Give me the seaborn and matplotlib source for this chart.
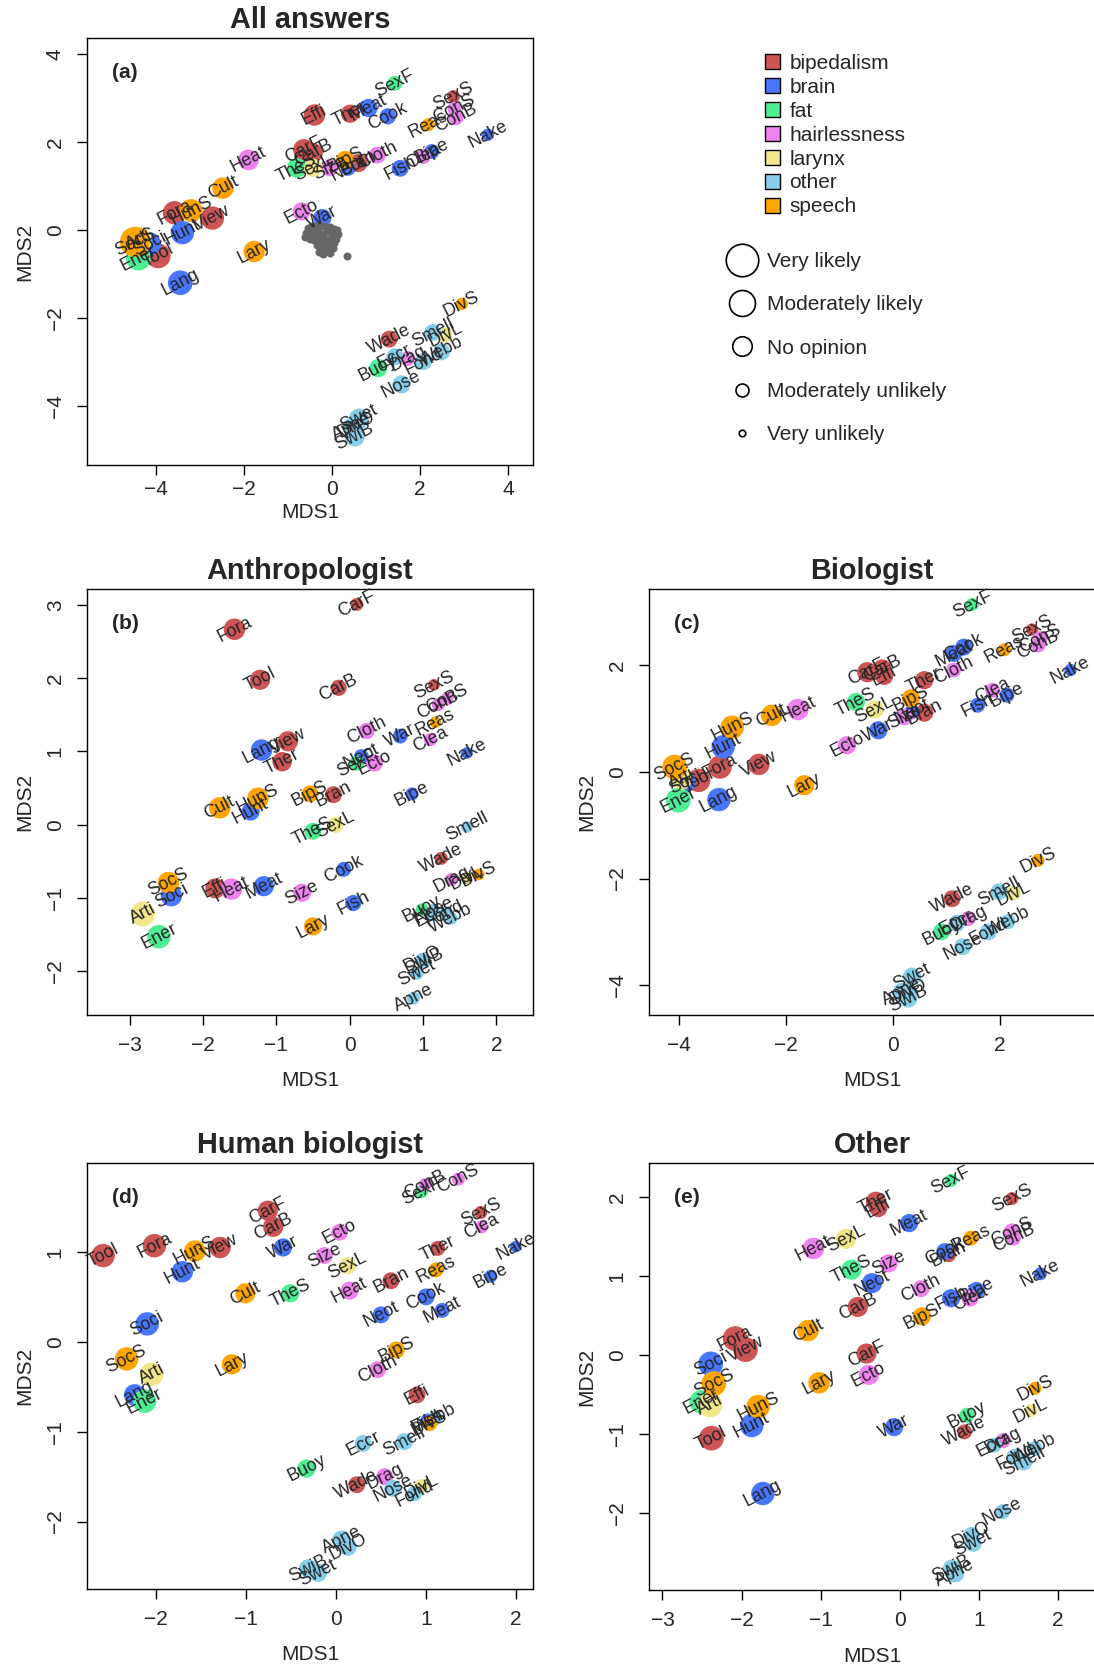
import numpy as np
import pandas as pd
import matplotlib
matplotlib.use("Agg")
import matplotlib.pyplot as plt
from matplotlib.patches import Patch
from matplotlib.lines import Line2D
import seaborn as sns

# hypotheses (short names) and their group
names = ["Effi", "Ther", "SexS", "CarF", "CarB", "Bran", "Fora", "View", "Tool", "Wade",
         "Meat", "Cook", "Nake", "Neot", "Fish", "Bipe", "Hunt", "War", "Soci", "Lang",
         "SexF", "TheS", "Ener", "Buoy",
         "ConS", "ConB", "Heat", "Size", "Cloth", "Clea", "Ecto", "Drag",
         "SexL", "Arti", "DivL",
         "Smell", "Eccr", "Fond", "Webb", "Nose", "Swet", "Apne", "DivO", "SwiB",
         "Reas", "BipS", "Cult", "HunS", "SocS", "Lary", "DivS"]
groups = (["bipedalism"] * 10 + ["brain"] * 10 + ["fat"] * 4 + ["hairlessness"] * 8
          + ["larynx"] * 3 + ["other"] * 9 + ["speech"] * 7)

group_names = ["bipedalism", "brain", "fat", "hairlessness", "larynx", "other", "speech"]
group_colors = ["#CD5555", "#4876FF", "#4EEE94", "#EE82EE", "#F0E68C", "#87CEEB", "#FFA500"]

rating_labels = ["Very likely", "Moderately likely", "No opinion", "Moderately unlikely", "Very unlikely"]
rating_values = [5, 4, 3, 2, 1]

# (a) all answers
a_x = [-0.40, 0.41, 2.76, -0.64, -0.43, 0.60, -3.58, -2.72, -3.95, 1.30,
       0.83, 1.27, 3.54, 0.37, 1.55, 2.27, -3.40, -0.22, -4.15, -3.45,
       1.43, -0.80, -4.40, 1.05,
       2.78, 2.82, -1.90, -0.05, 1.03, 2.08, -0.69, 1.72,
       -0.43, -4.40, 2.57,
       2.29, 1.43, 2.08, 2.49, 1.58, 0.61, 0.45, 0.56, 0.52,
       2.19, 0.30, -2.48, -3.20, -4.48, -1.77, 2.95]
a_y = [2.61, 2.64, 3.03, 1.82, 1.75, 1.52, 0.39, 0.27, -0.59, -2.48,
       2.77, 2.58, 2.16, 1.40, 1.40, 1.78, -0.06, 0.27, -0.32, -1.20,
       3.33, 1.41, -0.64, -3.14,
       2.75, 2.55, 1.59, 1.41, 1.70, 1.67, 0.42, -2.92,
       1.41, -0.23, -2.39,
       -2.33, -2.88, -2.99, -2.77, -3.51, -4.28, -4.47, -4.43, -4.70,
       2.39, 1.59, 0.95, 0.44, -0.27, -0.49, -1.68]
a_r = [3.3, 2.8, 2.0, 3.3, 3.0, 2.8, 3.6, 3.6, 3.8, 2.6,
       2.8, 2.5, 1.9, 2.3, 2.6, 2.3, 3.6, 2.8, 3.6, 3.8,
       2.3, 3.0, 3.8, 2.8,
       2.1, 2.3, 3.2, 2.6, 2.6, 2.3, 2.8, 2.3,
       2.8, 4.1, 2.3,
       2.6, 2.6, 2.6, 2.6, 2.8, 3.0, 2.8, 2.8, 3.0,
       2.0, 2.8, 3.3, 3.5, 4.6, 3.3, 1.9]

# respondents (grey) in panel (a)
resp_x = [-0.55, -0.45, -0.35, -0.25, -0.15, -0.05, 0.05, 0.12, -0.60, -0.50, -0.40, -0.30,
          -0.20, -0.10, 0.00, 0.10, -0.50, -0.40, -0.30, -0.20, -0.10, 0.00, 0.08, -0.35,
          -0.25, -0.15, -0.05, 0.05, -0.30, -0.20, -0.05, 0.33, -0.62, 0.14,
          -0.45, -0.12, 0.02, -0.28, -0.38, -0.08]
resp_y = [0.05, 0.08, 0.10, 0.10, 0.08, 0.06, 0.03, 0.00, -0.08, -0.10, -0.05, -0.08,
          -0.10, -0.05, -0.10, -0.12, -0.20, -0.22, -0.25, -0.18, -0.22, -0.25, -0.20, -0.35,
          -0.38, -0.32, -0.36, -0.30, -0.50, -0.55, -0.52, -0.59, -0.15, -0.10,
          0.00, 0.00, -0.40, -0.45, -0.12, -0.45]

# (b) anthropologist
b_x = [-1.83, -0.92, 1.15, 0.10, -0.15, -0.22, -1.57, -0.84, -1.22, 1.25,
       -1.17, -0.08, 1.60, 0.16, 0.05, 0.85, -1.35, 0.69, -2.43, -1.20,
       0.10, -0.50, -2.60, 0.99,
       1.33, 1.21, -1.61, -0.65, 0.23, 1.10, 0.34, 1.39,
       -0.19, -2.82, 1.60,
       1.60, 1.12, 1.30, 1.38, 1.15, 0.92, 0.87, 0.99, 1.02,
       1.17, -0.54, -1.77, -1.25, -2.47, -0.50, 1.76]
b_y = [-0.87, 0.86, 1.91, 3.01, 1.87, 0.41, 2.67, 1.14, 1.98, -0.46,
       -0.84, -0.61, 0.98, 0.93, -1.07, 0.42, 0.18, 1.21, -0.97, 1.02,
       0.84, -0.09, -1.53, -1.16,
       1.72, 1.64, -0.88, -0.93, 1.28, 1.16, 0.84, -0.75,
       0.00, -1.22, -0.73,
       -0.03, -1.23, -1.21, -1.28, -1.17, -2.03, -2.37, -1.84, -1.87,
       1.40, 0.42, 0.23, 0.36, -0.79, -1.39, -0.68]
b_r = [3.1, 3.0, 1.8, 2.0, 2.5, 2.6, 3.3, 3.1, 3.1, 2.0,
       3.1, 2.3, 1.8, 2.3, 2.5, 2.0, 2.8, 2.3, 3.3, 3.3,
       2.3, 2.6, 3.6, 2.0,
       2.0, 2.0, 3.3, 2.8, 2.5, 2.0, 2.6, 2.0,
       2.5, 3.8, 1.8,
       1.8, 2.0, 2.0, 2.0, 2.0, 2.0, 2.0, 2.0, 2.0,
       1.8, 2.6, 3.3, 3.3, 3.3, 2.8, 1.8]

# (c) biologist
c_x = [-0.16, 0.59, 2.61, -0.48, -0.20, 0.59, -3.24, -2.51, -3.64, 1.11,
       1.14, 1.33, 3.33, 0.36, 1.59, 2.14, -3.18, -0.27, -3.89, -3.26,
       1.49, -0.69, -4.02, 0.91,
       2.76, 2.73, -1.78, 0.22, 1.14, 1.87, -0.86, 1.42,
       -0.34, -3.96, 2.26,
       1.99, 1.20, 1.79, 2.16, 1.31, 0.36, 0.17, 0.29, 0.29,
       2.09, 0.34, -2.27, -3.01, -4.09, -1.66, 2.72]
c_y = [1.80, 1.72, 2.67, 1.87, 1.94, 1.11, 0.09, 0.14, -0.16, -2.38,
       2.22, 2.34, 1.91, 1.13, 1.25, 1.44, 0.47, 0.78, -0.19, -0.52,
       3.14, 1.31, -0.53, -3.00,
       2.50, 2.38, 1.17, 1.03, 1.91, 1.53, 0.50, -2.75,
       1.17, -0.13, -2.28,
       -2.25, -2.84, -3.00, -2.81, -3.28, -3.84, -4.13, -4.13, -4.25,
       2.29, 1.38, 1.06, 0.84, 0.09, -0.25, -1.66]
c_r = [2.8, 2.8, 1.9, 3.1, 2.8, 2.8, 3.6, 3.3, 3.6, 2.6,
       2.6, 2.6, 1.9, 2.3, 2.3, 2.3, 3.6, 2.8, 3.3, 3.6,
       2.0, 2.8, 3.8, 2.6,
       2.3, 2.3, 3.3, 2.6, 2.3, 2.3, 2.8, 2.3,
       2.8, 3.3, 2.3,
       2.6, 2.6, 2.6, 2.3, 2.6, 2.8, 2.8, 2.8, 2.8,
       2.0, 2.8, 3.3, 3.6, 3.8, 3.1, 2.0]

# (d) human biologist
d_x = [0.90, 1.13, 1.61, -0.76, -0.70, 0.61, -2.02, -1.29, -2.59, 0.23,
       1.18, 1.00, 2.00, 0.50, 1.02, 1.72, -1.71, -0.59, -2.10, -2.24,
       0.95, -0.51, -2.13, -0.33,
       1.36, 0.99, 0.15, -0.13, 0.46, 1.62, 0.04, 0.54,
       0.13, -2.05, 0.95,
       0.76, 0.30, 0.87, 1.10, 0.63, -0.20, 0.06, 0.13, -0.31,
       1.11, 0.67, -1.01, -1.57, -2.33, -1.16, 1.04]
d_y = [-0.59, 1.04, 1.44, 1.46, 1.28, 0.68, 1.07, 1.05, 0.96, -1.59,
       0.35, 0.50, 1.06, 0.30, -0.88, 0.73, 0.78, 1.05, 0.20, -0.59,
       1.67, 0.54, -0.66, -1.41,
       1.81, 1.75, 0.57, 0.96, -0.31, 1.28, 1.22, -1.50,
       0.85, -0.36, -1.61,
       -1.11, -1.13, -1.69, -0.85, -1.63, -2.57, -2.20, -2.28, -2.52,
       0.80, -0.09, 0.54, 1.01, -0.19, -0.25, -0.91]
d_r = [2.6, 2.3, 2.0, 3.1, 3.1, 2.6, 3.6, 3.3, 3.6, 2.6,
       2.3, 2.6, 1.8, 2.6, 2.3, 2.0, 3.3, 2.8, 3.6, 3.3,
       2.0, 2.8, 3.6, 2.8,
       2.0, 2.0, 2.8, 2.6, 2.6, 2.0, 2.6, 2.6,
       2.6, 3.6, 2.3,
       2.6, 2.6, 2.3, 2.3, 2.6, 2.8, 2.8, 2.8, 2.8,
       2.3, 2.6, 3.1, 3.3, 3.6, 3.1, 2.3]

# (e) other
e_x = [-0.27, -0.30, 1.42, -0.42, -0.53, 0.62, -2.08, -1.95, -2.38, 0.82,
       0.12, 0.57, 1.78, -0.35, 0.65, 0.97, -1.87, -0.07, -2.39, -1.73,
       0.65, -0.61, -2.51, 0.85,
       1.42, 1.44, -1.09, -0.14, 0.27, 0.89, -0.39, 1.31,
       -0.68, -2.40, 1.66,
       1.57, 1.19, 1.46, 1.71, 1.30, 0.93, 0.70, 0.91, 0.66,
       0.90, 0.28, -1.16, -1.79, -2.35, -1.02, 1.71]
e_y = [1.86, 1.94, 1.98, 0.02, 0.61, 1.27, 0.21, 0.07, -1.05, -0.97,
       1.67, 1.31, 1.03, 0.91, 0.72, 0.82, -0.89, -0.91, -0.11, -1.75,
       2.21, 1.08, -0.59, -0.76,
       1.56, 1.48, 1.35, 1.16, 0.84, 0.72, -0.25, -1.08,
       1.47, -0.63, -0.70,
       -1.35, -1.14, -1.29, -1.18, -1.98, -2.38, -2.76, -2.28, -2.70,
       1.48, 0.49, 0.31, -0.65, -0.36, -0.35, -0.42]
e_r = [2.8, 3.1, 2.0, 3.1, 3.1, 2.3, 3.8, 3.8, 3.8, 2.3,
       2.8, 2.6, 2.0, 3.1, 2.8, 2.6, 3.6, 2.8, 3.8, 3.6,
       2.0, 3.1, 3.6, 2.3,
       2.6, 2.3, 3.3, 2.8, 2.6, 2.6, 3.1, 2.3,
       3.1, 3.8, 2.0,
       2.6, 2.3, 2.6, 2.3, 2.3, 2.6, 2.8, 2.6, 2.8,
       2.3, 2.8, 3.3, 3.6, 3.8, 3.3, 2.0]

DPI = 100
W, H = 1094, 1664


def area(r):
    # diameter in px grows linearly with the rating
    d_pt = 6.5 * np.asarray(r) * 72 / DPI
    return d_pt ** 2


sns.set_style("ticks")
plt.rcParams["font.family"] = ["Liberation Sans", "DejaVu Sans"]
palette = dict(zip(group_names, group_colors))

fig = plt.figure(figsize=(W / DPI, H / DPI), dpi=DPI)


def box(left, top, right, bottom):
    return [left / W, 1 - bottom / H, (right - left) / W, (bottom - top) / H]


panels = [
    ("All answers", "(a)", a_x, a_y, a_r, box(87, 38, 533, 465), (-5.57, 4.57), (-5.34, 4.36),
     [-4, -2, 0, 2, 4], [-4, -2, 0, 2, 4], 3, True),
    ("Anthropologist", "(b)", b_x, b_y, b_r, box(87, 589, 533, 1015), (-3.58, 2.50), (-2.60, 3.22),
     [-3, -2, -1, 0, 1, 2], [-2, -1, 0, 1, 2, 3], 12, False),
    ("Biologist", "(c)", c_x, c_y, c_r, box(649, 589, 1095, 1015), (-4.57, 3.79), (-4.56, 3.43),
     [-4, -2, 0, 2], [-4, -2, 0, 2], 12, False),
    ("Human biologist", "(d)", d_x, d_y, d_r, box(87, 1163, 533, 1589), (-2.77, 2.19), (-2.75, 1.99),
     [-2, -1, 0, 1, 2], [-2, -1, 0, 1], 12, False),
    ("Other", "(e)", e_x, e_y, e_r, box(649, 1163, 1095, 1590), (-3.17, 2.47), (-2.97, 2.43),
     [-3, -2, -1, 0, 1, 2], [-2, -1, 0, 1, 2], 12, False),
]

for title, tag, xs, ys, rs, pos, xlim, ylim, xt, yt, xlpad, with_resp in panels:
    ax = fig.add_axes(pos)
    df = pd.DataFrame({"x": xs, "y": ys, "name": names, "group": groups, "s": area(rs)})
    sns.scatterplot(data=df, x="x", y="y", hue="group", palette=palette, size="s",
                    sizes=(0, 1000), size_norm=(0, 1000), linewidth=0, legend=False,
                    zorder=2, ax=ax)
    if with_resp:
        sns.scatterplot(x=resp_x, y=resp_y, color="#666666", s=(8 * 0.72) ** 2,
                        linewidth=0, zorder=2, ax=ax)
    for _, row in df.iterrows():
        ax.text(row["x"], row["y"], row["name"], rotation=27, rotation_mode="anchor",
                ha="center", va="center", fontsize=12.9, zorder=3)
    ax.set_xlim(*xlim)
    ax.set_ylim(*ylim)
    ax.set_xticks(xt)
    ax.set_yticks(yt)
    ax.set_xticklabels([str(v) if v >= 0 else "\u2212" + str(-v) for v in xt])
    ax.set_yticklabels([str(v) if v >= 0 else "\u2212" + str(-v) for v in yt],
                       rotation=90, va="center")
    ax.tick_params(direction="out", length=7, width=1, labelsize=15, color="black")
    ax.tick_params(axis="x", pad=4 if with_resp else 8)
    ax.tick_params(axis="y", pad=9)
    for sp in ax.spines.values():
        sp.set_visible(True)
        sp.set_linewidth(1)
        sp.set_color("black")
    ax.set_xlabel("MDS1", fontsize=15, labelpad=xlpad)
    ax.set_ylabel("MDS2", fontsize=15, labelpad=8)
    ax.set_title(title, fontsize=20.8, fontweight="bold", pad=7)
    ax.text(0.055, 0.92, tag, transform=ax.transAxes, fontsize=15, fontweight="bold",
            ha="left", va="center")

# legends in the empty top-right space
color_handles = [Patch(facecolor=c, edgecolor="black", linewidth=1) for c in group_colors]
leg1 = fig.legend(color_handles, group_names, loc="upper left",
                  bbox_to_anchor=(765 / W, 1 - 54 / H), frameon=False, fontsize=15,
                  handlelength=0.72, handleheight=0.72, handletextpad=0.45,
                  labelspacing=0.235, borderpad=0, borderaxespad=0)

size_handles = [Line2D([], [], marker="o", linestyle="", markerfacecolor="white",
                       markeredgecolor="black", markeredgewidth=1.2,
                       markersize=6.5 * v * 72 / DPI) for v in rating_values]
leg2 = fig.legend(size_handles, rating_labels, loc="upper left",
                  bbox_to_anchor=(725 / W, 1 - 252 / H), frameon=False, fontsize=15,
                  handlelength=1.6, handletextpad=0.4, labelspacing=1.17,
                  borderpad=0, borderaxespad=0)

fig.savefig("out.png", dpi=DPI)
